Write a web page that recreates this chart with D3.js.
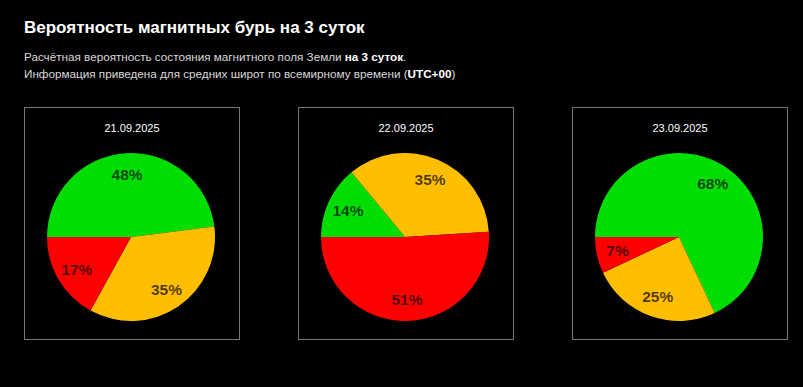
<!DOCTYPE html>
<html>
<head>
<meta charset="utf-8">
<script src="https://cdn.jsdelivr.net/npm/d3@7"></script>
<style>
  html, body { margin: 0; padding: 0; background: #000; }
  svg { display: block; font-family: "Liberation Sans", Arial, sans-serif; }
</style>
</head>
<body>
<svg id="chart" width="803" height="387"></svg>
<script>
// data
const dates = ['21.09.2025', '22.09.2025', '23.09.2025'];
const levels = ['quiet', 'storm-risk', 'storm'];
const greenValues = [48, 14, 68];
const orangeValues = [35, 35, 25];
const redValues = [17, 51, 7];
const levelColors = ['#00dd00', '#ffbf00', '#ff0000'];

const svg = d3.select('#chart');

svg.append('rect').attr('width', 803).attr('height', 387).attr('fill', '#000');

// header
svg.append('text')
  .attr('x', 24).attr('y', 33)
  .attr('fill', '#fff')
  .attr('font-size', 17)
  .attr('font-weight', 'bold')
  .text('Вероятность магнитных бурь на 3 суток');

const line1 = svg.append('text')
  .attr('x', 24).attr('y', 61)
  .attr('fill', '#d8d8d8')
  .attr('font-size', 11.7);
line1.append('tspan').text('Расчётная вероятность состояния магнитного поля Земли ');
line1.append('tspan').attr('font-weight', 'bold').attr('fill', '#fff').text('на 3 суток');
line1.append('tspan').text('.');

const line2 = svg.append('text')
  .attr('x', 24).attr('y', 78)
  .attr('fill', '#d8d8d8')
  .attr('font-size', 11.7);
line2.append('tspan').text('Информация приведена для средних широт по всемирному времени (');
line2.append('tspan').attr('font-weight', 'bold').attr('fill', '#fff').text('UTC+00');
line2.append('tspan').text(')');

// panels
const boxW = 215, boxH = 232;
const xPanel = d3.scalePoint().domain(dates).range([24, 572]);

const radius = 84;
const pie = d3.pie().sort(null).value(d => d.value)
  .startAngle(-Math.PI / 2).endAngle(Math.PI * 1.5);
const arc = d3.arc().innerRadius(0).outerRadius(radius);
const labelArc = d3.arc().innerRadius(radius * 0.75).outerRadius(radius * 0.75);

dates.forEach((date, i) => {
  const data = levels.map((lvl, j) => ({
    level: lvl,
    value: [greenValues, orangeValues, redValues][j][i],
    color: levelColors[j]
  }));

  const g = svg.append('g')
    .attr('transform', `translate(${xPanel(date)},107)`);

  g.append('rect')
    .attr('x', 0.5).attr('y', 0.5)
    .attr('width', boxW).attr('height', boxH)
    .attr('fill', 'none')
    .attr('stroke', '#777')
    .attr('stroke-width', 1);

  g.append('text')
    .attr('x', boxW / 2 + 0.5).attr('y', 25)
    .attr('text-anchor', 'middle')
    .attr('fill', '#fff')
    .attr('font-size', 11)
    .text(date);

  const pg = g.append('g')
    .attr('transform', `translate(${boxW / 2 - 0.5},130)`);

  const arcs = pie(data);

  pg.selectAll('path')
    .data(arcs)
    .join('path')
    .attr('d', arc)
    .attr('fill', d => d.data.color);

  pg.selectAll('text')
    .data(arcs)
    .join('text')
    .attr('transform', d => `translate(${labelArc.centroid(d)})`)
    .attr('text-anchor', 'middle')
    .attr('dy', '0.35em')
    .attr('font-size', 15.5)
    .attr('font-weight', 'bold')
    .attr('fill', '#000')
    .attr('fill-opacity', 0.7)
    .text(d => d.data.value + '%');
});
</script>
</body>
</html>
